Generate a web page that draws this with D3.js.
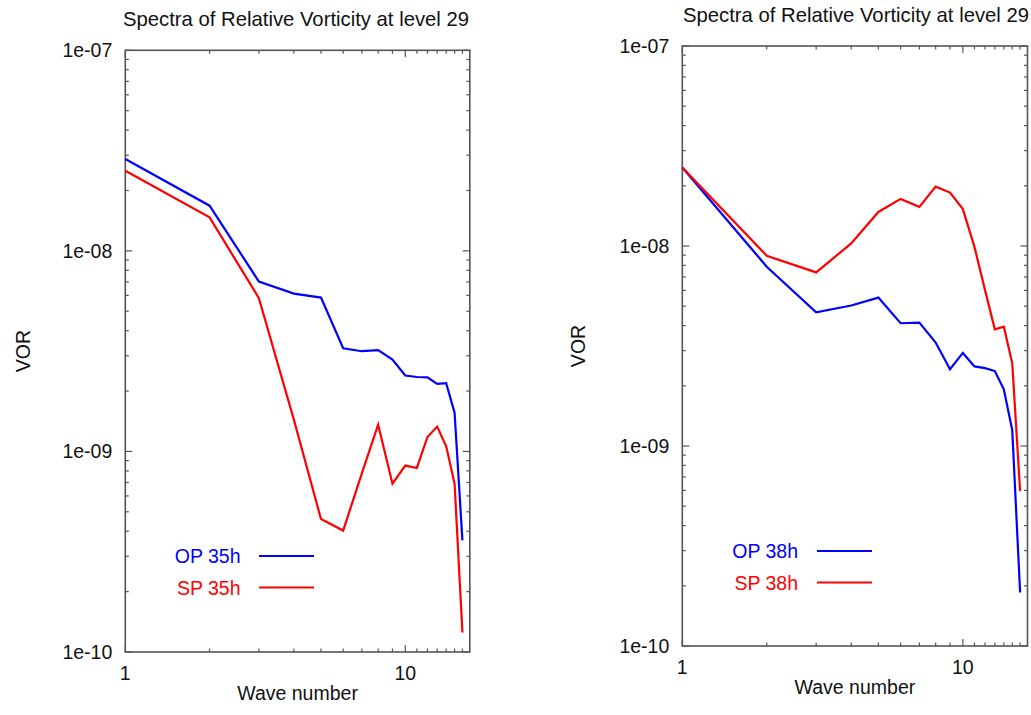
<!DOCTYPE html>
<html><head><meta charset="utf-8">
<script src="https://cdn.jsdelivr.net/npm/d3@7"></script>
<style>
body{margin:0;background:#fff;}
svg{display:block;font-family:"Liberation Sans",Arial,sans-serif;}
</style></head>
<body>
<svg id="c" width="1031" height="715"></svg>
<script>
const waveNumbers = [1,2,3,4,5,6,7,8,9,10,11,12,13,14,15,16];
const op35 = [2.87e-8,1.68e-8,7.03e-9,6.12e-9,5.85e-9,3.27e-9,3.16e-9,3.20e-9,2.87e-9,2.39e-9,2.35e-9,2.34e-9,2.17e-9,2.19e-9,1.56e-9,3.6e-10];
const sp35 = [2.51e-8,1.47e-8,5.81e-9,1.44e-9,4.60e-10,4.03e-10,7.8e-10,1.36e-9,6.9e-10,8.5e-10,8.27e-10,1.18e-9,1.33e-9,1.06e-9,6.9e-10,1.25e-10];
const op38 = [2.47e-8,7.88e-9,4.66e-9,5.04e-9,5.52e-9,4.11e-9,4.14e-9,3.29e-9,2.42e-9,2.92e-9,2.5e-9,2.45e-9,2.37e-9,1.92e-9,1.2e-9,1.85e-10];
const sp38 = [2.47e-8,8.94e-9,7.38e-9,1.03e-8,1.48e-8,1.72e-8,1.57e-8,1.98e-8,1.85e-8,1.53e-8,9.9e-9,6.0e-9,3.83e-9,3.95e-9,2.59e-9,5.96e-10];
const yTickLabels = ["1e-07","1e-08","1e-09","1e-10"];
const yTickValues = [1e-7,1e-8,1e-9,1e-10];
const xTickValues = [1,10];
const titleText = "Spectra of Relative Vorticity at level 29";
const xLabel = "Wave number";
const yLabel = "VOR";
const legendLabelsLeft = ["OP 35h","SP 35h"];
const legendLabelsRight = ["OP 38h","SP 38h"];

const panels = [
  {x0:125.3, x1:469.8, y0:50.3, y1:652, series:[op35,sp35], labels:legendLabelsLeft,
   titleX:296, titleY:26, ylabX:30, legX:240.5, legY:556, legLine:[259,314], xlabY:710},
  {x0:682.3, x1:1027.5, y0:46, y1:646, series:[op38,sp38], labels:legendLabelsRight,
   titleX:856, titleY:22, ylabX:585, legX:798, legY:551, legLine:[817,872], xlabY:704}
];
const colors = ["#0000ff","#ff0000"];
const axisColor = "#555";
const svg = d3.select("#c");

panels.forEach(p => {
  const x = d3.scaleLog().domain([1,17]).range([p.x0,p.x1]);
  const y = d3.scaleLog().domain([1e-10,1e-7]).range([p.y1,p.y0]);
  const g = svg.append("g");

  const minorY = [];
  for (let e=-10;e<-7;e++) for (let m=2;m<=9;m++) minorY.push(m*Math.pow(10,e));
  const minorX = [2,3,4,5,6,7,8,9,11,12,13,14,15,16];

  const tk = g.append("g").attr("stroke",axisColor).attr("stroke-width",1.2);
  yTickValues.forEach(v=>{
    tk.append("line").attr("x1",p.x0).attr("x2",p.x0+7).attr("y1",y(v)).attr("y2",y(v));
    tk.append("line").attr("x1",p.x1).attr("x2",p.x1-7).attr("y1",y(v)).attr("y2",y(v));
  });
  minorY.forEach(v=>{
    tk.append("line").attr("x1",p.x0).attr("x2",p.x0+3.5).attr("y1",y(v)).attr("y2",y(v));
    tk.append("line").attr("x1",p.x1).attr("x2",p.x1-3.5).attr("y1",y(v)).attr("y2",y(v));
  });
  xTickValues.forEach(v=>{
    tk.append("line").attr("x1",x(v)).attr("x2",x(v)).attr("y1",p.y1).attr("y2",p.y1-7);
    tk.append("line").attr("x1",x(v)).attr("x2",x(v)).attr("y1",p.y0).attr("y2",p.y0+7);
  });
  minorX.forEach(v=>{
    tk.append("line").attr("x1",x(v)).attr("x2",x(v)).attr("y1",p.y1).attr("y2",p.y1-3.5);
    tk.append("line").attr("x1",x(v)).attr("x2",x(v)).attr("y1",p.y0).attr("y2",p.y0+3.5);
  });

  g.append("rect").attr("x",p.x0).attr("y",p.y0).attr("width",p.x1-p.x0).attr("height",p.y1-p.y0)
    .attr("fill","none").attr("stroke",axisColor).attr("stroke-width",1.6);

  yTickValues.forEach((v,i)=>{
    g.append("text").attr("x",p.x0-13).attr("y",y(v)).attr("dy","0.36em")
      .attr("text-anchor","end").attr("font-size",19.5).attr("fill","#111").text(yTickLabels[i]);
  });
  xTickValues.forEach(v=>{
    g.append("text").attr("x",x(v)).attr("y",p.y1+28).attr("text-anchor","middle")
      .attr("font-size",19.5).attr("fill","#111").text(String(v));
  });

  g.append("text").attr("x",(p.x0+p.x1)/2).attr("y",p.xlabY-10).attr("text-anchor","middle")
    .attr("font-size",19.5).attr("fill","#111").text(xLabel);
  g.append("text").attr("transform",`translate(${p.ylabX},${(p.y0+p.y1)/2}) rotate(-90)`)
    .attr("text-anchor","middle").attr("font-size",19.5).attr("fill","#111").text(yLabel);
  g.append("text").attr("x",p.titleX).attr("y",p.titleY).attr("text-anchor","middle")
    .attr("font-size",20.3).attr("fill","#111").text(titleText);

  const line = d3.line().x((d,i)=>x(waveNumbers[i])).y(d=>y(d));
  p.series.forEach((s,i)=>{
    g.append("path").datum(s).attr("d",line).attr("fill","none")
      .attr("stroke",colors[i]).attr("stroke-width",2.2).attr("stroke-linejoin","miter");
  });

  p.labels.forEach((lab,i)=>{
    const ly = p.legY + i*31.5;
    g.append("text").attr("x",p.legX).attr("y",ly).attr("dy","0.36em").attr("text-anchor","end")
      .attr("font-size",19.5).attr("fill",colors[i]).text(lab);
    g.append("line").attr("x1",p.legLine[0]).attr("x2",p.legLine[1]).attr("y1",ly).attr("y2",ly)
      .attr("stroke",colors[i]).attr("stroke-width",2.2);
  });
});
</script>
</body></html>
